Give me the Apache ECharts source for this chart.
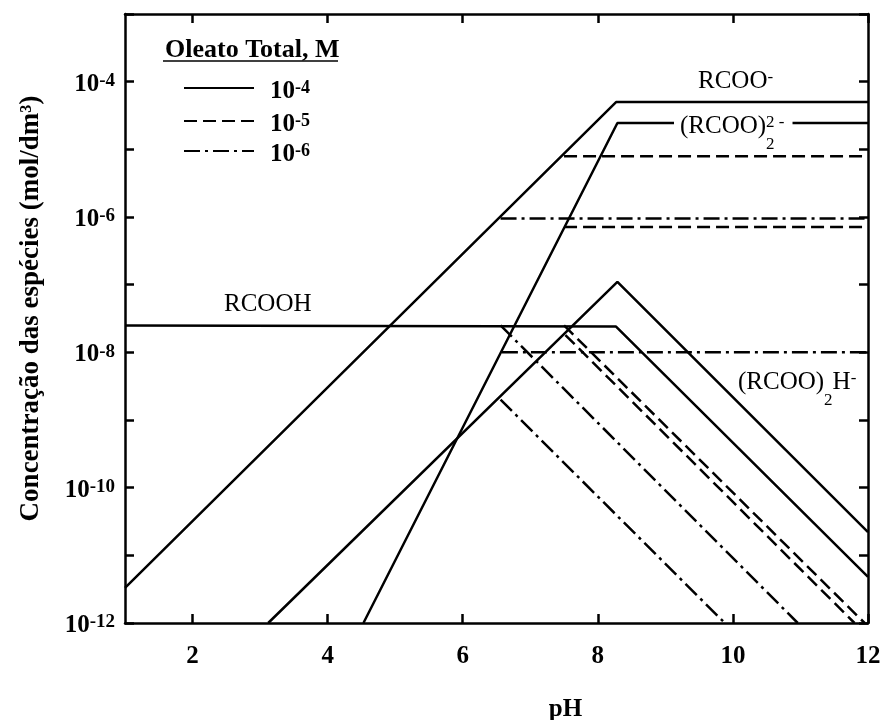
<!DOCTYPE html>
<html><head><meta charset="utf-8">
<script src="https://cdn.jsdelivr.net/npm/echarts@6/dist/echarts.min.js"></script>
<style>html,body{margin:0;padding:0;background:#fff}#c{width:884px;height:720px}</style>
</head><body><div id="c"></div>
<script>
// ---- data: [pH, concentration mol/dm3] ----
// total oleate 1e-4 M (solid)
const RCOO_1e4   = [[1, 3.3e-12], [8.27, 5.0e-5], [12, 5.0e-5]];
const DIMER_1e4  = [[4.53, 1e-12], [8.29, 2.45e-5], [12, 2.45e-5]];
const RCOOH_1e4  = [[1, 2.5e-8], [8.27, 2.4e-8], [12, 4.8e-12]];
const HDIMER_1e4 = [[3.12, 1e-12], [8.29, 1.1e-7], [12, 2.2e-11]];
// total oleate 1e-5 M (dashed)
const RCOO_1e5   = [[7.5, 7.9e-6], [12, 7.9e-6]];
const DIMER_1e5  = [[7.5, 7.1e-7], [12, 7.1e-7]];
const RCOOH_1e5  = [[7.5, 2.5e-8], [11.95, 1e-12]];
const HDIMER_1e5 = [[7.52, 1.8e-8], [11.8, 1e-12]];
// total oleate 1e-6 M (dash-dot)
const RCOO_1e6   = [[6.56, 9.5e-7], [12, 9.5e-7]];
const DIMER_1e6  = [[6.58, 1.0e-8], [12, 1.0e-8]];
const RCOOH_1e6  = [[6.56, 2.5e-8], [10.96, 1e-12]];
const HDIMER_1e6 = [[6.56, 2.0e-9], [9.88, 1e-12]];

const legendNames = ['1e-4', '1e-5', '1e-6'];
const legendExp = {'1e-4': '-4', '1e-5': '-5', '1e-6': '-6'};
const xTickValues = [2, 4, 6, 8, 10, 12];

const F = 'Liberation Serif';
const DASH = [13, 6];
const DASHDOT = [16, 5, 3, 5];

function mk(name, data, type) {
  return {type: 'line', name: name, data: data, symbol: 'none', showSymbol: false,
    lineStyle: {color: '#000', width: 2.5, type: type},
    itemStyle: {color: '#000'}, silent: true, animation: false, z: 3};
}

const SPR = {
  m: {fontFamily: F, fontSize: 25, lineHeight: 32, verticalAlign: 'top', fill: '#000'},
  s: {fontFamily: F, fontSize: 17, lineHeight: 14, verticalAlign: 'top', fill: '#000'},
  b: {fontFamily: F, fontSize: 17, lineHeight: 14, verticalAlign: 'top', padding: [22, 0, 0, 0], fill: '#000'},
  b0: {fontFamily: F, fontSize: 17, lineHeight: 14, verticalAlign: 'top', padding: [22, 0, 0, 0], width: 0, fill: '#000'}
};

function legendFor(name, top) {
  return {
    data: [name], orient: 'vertical', left: 178, top: top,
    itemWidth: 70, itemHeight: 14, selectedMode: false,
    itemStyle: {color: 'rgba(0,0,0,0)', borderWidth: 0, opacity: 0},
    formatter: function (n) { return '{m|10}{s|' + legendExp[n] + '}'; },
    textStyle: {rich: {
      m: {fontFamily: F, fontSize: 25, fontWeight: 'bold', lineHeight: 24, verticalAlign: 'top', padding: [3, 0, 0, 11], color: '#000'},
      s: {fontFamily: F, fontSize: 18, fontWeight: 'bold', lineHeight: 8, verticalAlign: 'top', padding: [3, 0, 0, 0], color: '#000'}
    }}
  };
}

const chart = echarts.init(document.getElementById('c'), null, {renderer: 'canvas'});
const option = {
  animation: false,
  backgroundColor: '#fff',
  grid: {left: 125, top: 14, width: 743, height: 609, containLabel: false, outerBoundsMode: 'none'},
  title: {text: 'Oleato Total, M', left: 160, top: 32,
    textStyle: {fontFamily: F, fontSize: 26, fontWeight: 'bold', color: '#000'}},
  legend: [legendFor('1e-4', 71), legendFor('1e-5', 104), legendFor('1e-6', 134)],
  xAxis: [{
    type: 'value', min: 1, max: 12, position: 'bottom',
    name: 'pH', nameLocation: 'middle', nameGap: 74,
    nameTextStyle: {fontFamily: F, fontSize: 25, fontWeight: 'bold', color: '#000', padding: [0, 0, 0, 138]},
    axisLine: {show: true, lineStyle: {color: '#000', width: 2.5}},
    axisTick: {show: true, inside: true, length: 9, lineStyle: {color: '#000', width: 2.5}, customValues: xTickValues},
    axisLabel: {show: true, margin: 21, fontFamily: F, fontSize: 25, fontWeight: 'bold', color: '#000', customValues: xTickValues},
    splitLine: {show: false}
  }, {
    type: 'value', min: 1, max: 12, position: 'top',
    axisLine: {show: true, lineStyle: {color: '#000', width: 2.5}},
    axisTick: {show: true, inside: true, length: 9, lineStyle: {color: '#000', width: 2.5}, customValues: xTickValues},
    axisLabel: {show: false}, splitLine: {show: false}
  }],
  yAxis: [{
    type: 'log', logBase: 10, min: 1e-12, max: 1e-3, splitNumber: 9, position: 'left',
    name: 'Concentração das espécies (mol/dm³)', nameLocation: 'middle', nameRotate: 90, nameGap: 80,
    nameTextStyle: {fontFamily: F, fontSize: 27, fontWeight: 'bold', color: '#000', padding: [0, 0, 0, 20]},
    axisLine: {show: true, lineStyle: {color: '#000', width: 2.5}},
    axisTick: {show: true, inside: true, length: 9, lineStyle: {color: '#000', width: 2.5}},
    minorTick: {show: false},
    axisLabel: {
      margin: 10,
      formatter: function (v) {
        const e = Math.round(Math.log10(v));
        if (e % 2 !== 0) return '';
        return '{m|10}{s|' + e + '}';
      },
      rich: {
        m: {fontFamily: F, fontSize: 25, fontWeight: 'bold', lineHeight: 34, verticalAlign: 'top', padding: [7, 0, 0, 0], color: '#000'},
        s: {fontFamily: F, fontSize: 19, fontWeight: 'bold', lineHeight: 14, verticalAlign: 'top', padding: [7, 0, 0, 0], color: '#000'}
      }
    },
    splitLine: {show: false}
  }, {
    type: 'log', logBase: 10, min: 1e-12, max: 1e-3, splitNumber: 9, position: 'right',
    axisLine: {show: true, lineStyle: {color: '#000', width: 2.5}},
    axisTick: {show: true, inside: true, length: 9, lineStyle: {color: '#000', width: 2.5}},
    axisLabel: {show: false}, splitLine: {show: false}
  }],
  series: [
    mk('1e-4', RCOO_1e4, 'solid'),
    mk('1e-4', DIMER_1e4, 'solid'),
    mk('1e-4', RCOOH_1e4, 'solid'),
    mk('1e-4', HDIMER_1e4, 'solid'),
    mk('1e-5', RCOO_1e5, DASH),
    mk('1e-5', DIMER_1e5, DASH),
    mk('1e-5', RCOOH_1e5, DASH),
    mk('1e-5', HDIMER_1e5, DASH),
    mk('1e-6', RCOO_1e6, DASHDOT),
    mk('1e-6', DIMER_1e6, DASHDOT),
    mk('1e-6', RCOOH_1e6, DASHDOT),
    mk('1e-6', HDIMER_1e6, DASHDOT)
  ],
  graphic: [
    {type: 'line', shape: {x1: 163, y1: 61, x2: 338, y2: 61}, style: {stroke: '#000', lineWidth: 1.5}, z: 10},
    {type: 'text', x: 698, y: 85, z: 10, style: {text: '{m|RCOO}{s|-}', rich: SPR, verticalAlign: 'middle', align: 'left', fill: '#000'}},
    {type: 'text', x: 674, y: 130, z: 10, style: {text: '{m|(RCOO)}{b0|2}{s|2 -}', rich: SPR, verticalAlign: 'middle', align: 'left', fill: '#000', backgroundColor: '#fff', padding: [0, 8, 0, 6]}},
    {type: 'text', x: 224, y: 308, z: 10, style: {text: '{m|RCOOH}', rich: SPR, verticalAlign: 'middle', align: 'left', fill: '#000'}},
    {type: 'text', x: 738, y: 386, z: 10, style: {text: '{m|(RCOO)}{b|2}{m|H}{s|-}', rich: SPR, verticalAlign: 'middle', align: 'left', fill: '#000'}}
  ]
};
chart.setOption(option);
</script>
</body></html>
